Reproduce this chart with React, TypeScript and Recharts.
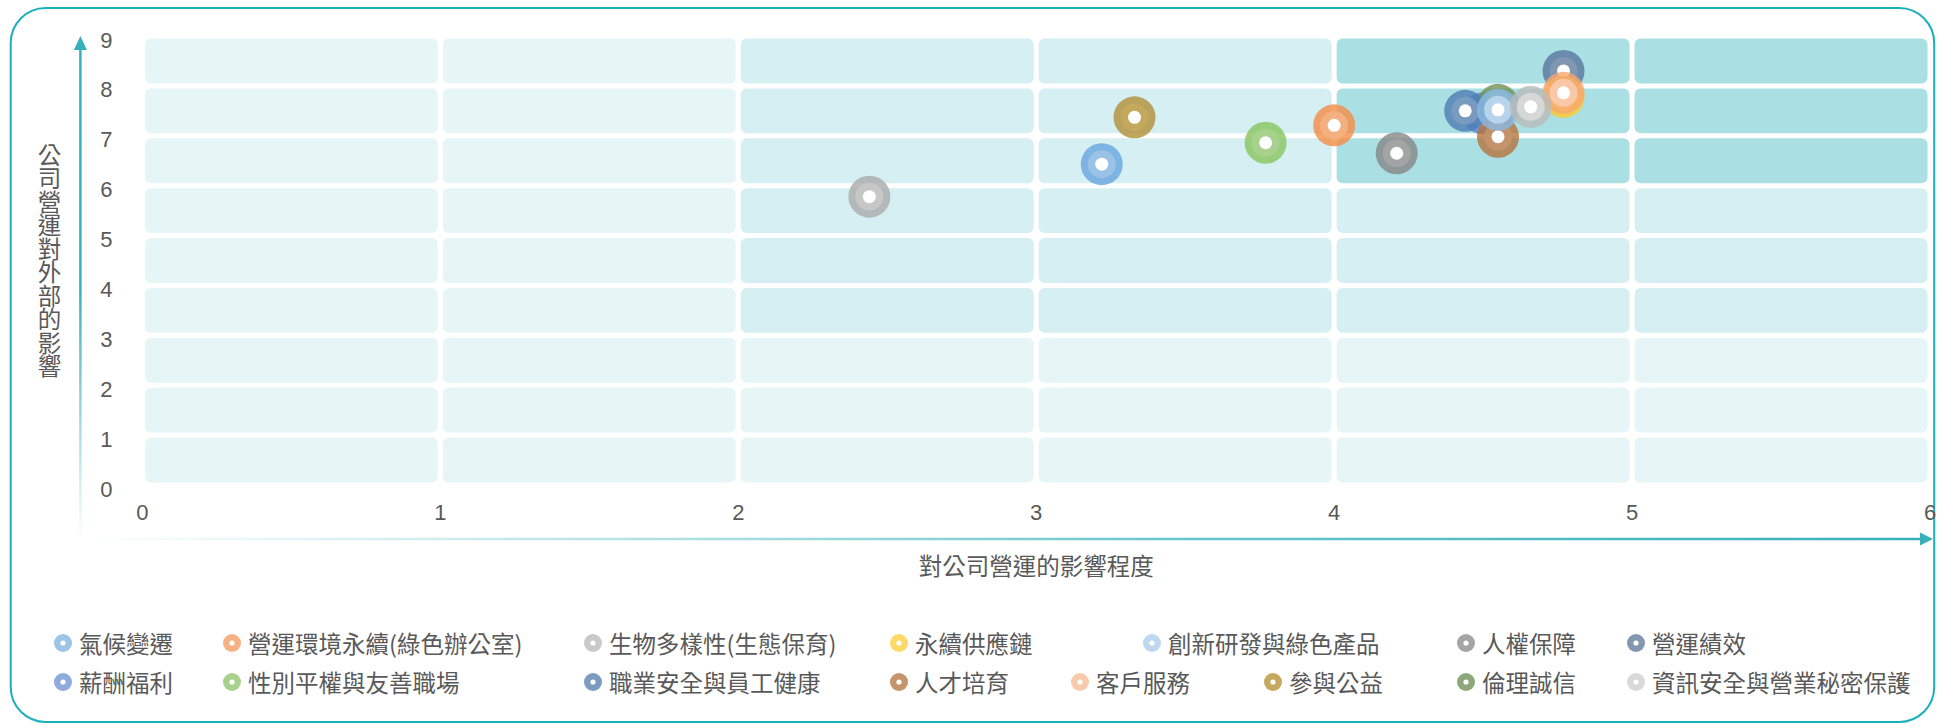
import React from "react";
import { ScatterChart, Scatter, XAxis, YAxis, ReferenceArea, Label } from "recharts";

// topics in legend order
const topics = [
  "氣候變遷",
  "營運環境永續(綠色辦公室)",
  "生物多樣性(生態保育)",
  "永續供應鏈",
  "創新研發與綠色產品",
  "人權保障",
  "營運績效",
  "薪酬福利",
  "性別平權與友善職場",
  "職業安全與員工健康",
  "人才培育",
  "客戶服務",
  "參與公益",
  "倫理誠信",
  "資訊安全與營業秘密保護",
];

// x: 對公司營運的影響程度
const impactOnOperation = [3.22, 4.0, 2.44, 4.77, 4.55, 4.21, 4.77, 4.5, 3.77, 4.44, 4.55, 4.77, 3.33, 4.55, 4.66];
// y: 公司營運對外部的影響
const impactOnOutside = [6.43, 7.21, 5.78, 7.78, 7.52, 6.65, 8.3, 7.45, 6.86, 7.5, 6.98, 7.86, 7.37, 7.62, 7.58];

const topicColors = [
  "#9dc3e6", "#f4b183", "#c9c9c9", "#ffd966", "#bdd7ee", "#a5a5a5", "#8497b0",
  "#8faadc", "#a9d18e", "#7c9cbf", "#c5946a", "#f8cbad", "#c5a95e", "#8ea77a", "#d9d9d9",
];

// order the bubbles are painted in (later = on top)
const drawOrder = [7, 13, 10, 9, 6, 3, 0, 1, 2, 4, 5, 8, 12, 11, 14];

const xTicks = [0, 1, 2, 3, 4, 5, 6];
const yTicks = [0, 1, 2, 3, 4, 5, 6, 7, 8, 9];
const xTitle = "對公司營運的影響程度";
const yTitle = "公司營運對外部的影響";

// legend rows (indexes into topics) and the x of each dot
const legendRows = [
  { items: [0, 1, 2, 3, 4, 5, 6], cols: [63, 232, 593, 899, 1152, 1466, 1636], y: 643 },
  { items: [7, 8, 9, 10, 11, 12, 13, 14], cols: [63, 232, 593, 899, 1080, 1273, 1466, 1636], y: 682 },
];

const W = 1942;
const H = 725;
const PLOT = { left: 142.4, right: 1930, top: 36, bottom: 485 };
const Y_AXIS_W = 60;
const X_AXIS_H = 30;

const TEXT = "#595959";
const TEAL = "#36b1b9";
const NUM_FONT = "'Liberation Sans', Arial, sans-serif";
const CJK_FONT = "'Noto Sans CJK TC', 'Noto Sans', sans-serif";

const LIGHT = "#e6f6f7";
const MEDIUM = "#d5eff2";
const DARK = "#aae0e4";

function zoneColor(x: number, y: number) {
  if (x >= 4 && y >= 6) return DARK;
  if (x >= 2 && y >= 3) return MEDIUM;
  return LIGHT;
}

// darker, slightly richer version of a colour for the bubble ring
function ringColor(hex: string) {
  const n = parseInt(hex.slice(1), 16);
  const r = ((n >> 16) & 255) / 255;
  const g = ((n >> 8) & 255) / 255;
  const b = (n & 255) / 255;
  const max = Math.max(r, g, b);
  const min = Math.min(r, g, b);
  let h = 0;
  let s = 0;
  let l = (max + min) / 2;
  if (max !== min) {
    const d = max - min;
    s = l > 0.5 ? d / (2 - max - min) : d / (max + min);
    if (max === r) h = (g - b) / d + (g < b ? 6 : 0);
    else if (max === g) h = (b - r) / d + 2;
    else h = (r - g) / d + 4;
    h *= 60;
    s = Math.min(1, s + 0.06);
  }
  l = Math.max(0, l - 0.12);
  return `hsl(${h.toFixed(1)}, ${(s * 100).toFixed(1)}%, ${(l * 100).toFixed(1)}%)`;
}

function CellShape(props: any) {
  const { x, y, width, height, fill } = props;
  return <rect x={x + 2.5} y={y + 2.5} width={width - 5} height={height - 5} rx={6} ry={6} fill={fill} />;
}

function bubble(color: string) {
  return (props: any) => {
    const { cx, cy } = props;
    if (cx == null || cy == null) return <g />;
    return (
      <g>
        <circle cx={cx} cy={cy} r={21} fill={ringColor(color)} fillOpacity={0.8} />
        <circle cx={cx} cy={cy} r={14} fill={color} fillOpacity={0.9} />
        <circle cx={cx} cy={cy} r={6.5} fill="#fff" />
      </g>
    );
  };
}

function XTick(props: any) {
  const { x, y, payload } = props;
  return (
    <text x={x} y={y + 27} textAnchor="middle" dominantBaseline="central" fill={TEXT} fontSize={22} fontFamily={NUM_FONT}>
      {payload.value}
    </text>
  );
}

function YTick(props: any) {
  const { x, y, payload } = props;
  return (
    <text x={x - 36} y={y + 4} textAnchor="middle" dominantBaseline="central" fill={TEXT} fontSize={22} fontFamily={NUM_FONT}>
      {payload.value}
    </text>
  );
}

function YTitle(props: any) {
  const vb = props.viewBox || {};
  return (
    <text
      x={vb.x + vb.width - 93}
      y={vb.y + vb.height / 2}
      textAnchor="middle"
      fill={TEXT}
      fontSize={23.5}
      fontFamily={CJK_FONT}
      style={{ writingMode: "vertical-rl" }}
    >
      {yTitle}
    </text>
  );
}

function XTitle(props: any) {
  const vb = props.viewBox || {};
  return (
    <text
      x={vb.x + vb.width / 2}
      y={vb.y + 80}
      textAnchor="middle"
      dominantBaseline="central"
      fill={TEXT}
      fontSize={23.5}
      fontFamily={CJK_FONT}
    >
      {xTitle}
    </text>
  );
}

function Frame() {
  const axisY = 539;
  const axisX = 80.4;
  return (
    <svg width={W} height={H} style={{ position: "absolute", left: 0, top: 0, pointerEvents: "none" }}>
      <defs>
        <linearGradient id="yArrow" gradientUnits="userSpaceOnUse" x1={0} y1={axisY} x2={0} y2={PLOT.top}>
          <stop offset="0" stopColor={TEAL} stopOpacity={0} />
          <stop offset="0.5" stopColor={TEAL} stopOpacity={1} />
          <stop offset="1" stopColor={TEAL} stopOpacity={1} />
        </linearGradient>
        <linearGradient id="xArrow" gradientUnits="userSpaceOnUse" x1={axisX} y1={0} x2={PLOT.right} y2={0}>
          <stop offset="0" stopColor={TEAL} stopOpacity={0} />
          <stop offset="0.6" stopColor={TEAL} stopOpacity={0.75} />
          <stop offset="1" stopColor={TEAL} stopOpacity={1} />
        </linearGradient>
      </defs>
      <rect x={10.7} y={8} width={1923.5} height={714} rx={35} ry={35} fill="none" stroke="#1ab0bb" strokeWidth={2} />
      <line x1={axisX} y1={axisY} x2={axisX} y2={49} stroke="url(#yArrow)" strokeWidth={2.5} />
      <polygon points={`${axisX},36 ${axisX - 6.5},50 ${axisX + 6.5},50`} fill={TEAL} />
      <line x1={axisX} y1={axisY} x2={1920} y2={axisY} stroke="url(#xArrow)" strokeWidth={2.5} />
      <polygon points={`1933,${axisY} 1920,${axisY - 6.5} 1920,${axisY + 6.5}`} fill={TEAL} />
    </svg>
  );
}

function LegendBlock() {
  return (
    <div style={{ position: "absolute", left: 0, top: 0, width: W, height: H, pointerEvents: "none" }}>
      {legendRows.map((row, ri) =>
        row.items.map((idx, ci) => (
          <div
            key={`${ri}-${ci}`}
            style={{
              position: "absolute",
              left: row.cols[ci] - 9,
              top: row.y - 14,
              height: 28,
              display: "flex",
              alignItems: "center",
              whiteSpace: "nowrap",
            }}
          >
            <svg width={18} height={18} style={{ display: "block" }}>
              <circle cx={9} cy={9} r={9} fill={topicColors[idx]} />
              <circle cx={9} cy={9} r={2.6} fill="#fff" />
            </svg>
            <span style={{ marginLeft: 7, fontFamily: CJK_FONT, fontSize: 23.5, lineHeight: "28px", color: TEXT }}>
              {topics[idx]}
            </span>
          </div>
        ))
      )}
    </div>
  );
}

export default function App() {
  const cells: { x: number; y: number }[] = [];
  for (let i = 0; i < xTicks.length - 1; i++) {
    for (let j = 0; j < yTicks.length - 1; j++) {
      cells.push({ x: xTicks[i], y: yTicks[j] });
    }
  }

  return (
    <div style={{ position: "absolute", left: 0, top: 0, width: W, height: H, background: "#fff", overflow: "hidden" }}>
      <Frame />
      <div style={{ position: "absolute", left: 0, top: 0 }}>
        <ScatterChart
          width={W}
          height={H}
          margin={{
            top: PLOT.top,
            right: W - PLOT.right,
            left: PLOT.left - Y_AXIS_W,
            bottom: H - PLOT.bottom - X_AXIS_H,
          }}
        >
          <XAxis
            type="number"
            dataKey="x"
            domain={[0, 6]}
            ticks={xTicks}
            height={X_AXIS_H}
            axisLine={false}
            tickLine={false}
            tickSize={0}
            tickMargin={0}
            tick={<XTick />}
            interval={0}
          >
            <Label content={<XTitle />} />
          </XAxis>
          <YAxis
            type="number"
            dataKey="y"
            domain={[0, 9]}
            ticks={yTicks}
            width={Y_AXIS_W}
            axisLine={false}
            tickLine={false}
            tickSize={0}
            tickMargin={0}
            tick={<YTick />}
            interval={0}
          >
            <Label content={<YTitle />} />
          </YAxis>
          {cells.map((c) => (
            <ReferenceArea
              key={`cell-${c.x}-${c.y}`}
              x1={c.x}
              x2={c.x + 1}
              y1={c.y}
              y2={c.y + 1}
              fill={zoneColor(c.x, c.y)}
              fillOpacity={1}
              stroke="none"
              ifOverflow="visible"
              shape={<CellShape />}
            />
          ))}
          {drawOrder.map((i) => (
            <Scatter
              key={topics[i]}
              name={topics[i]}
              data={[{ x: impactOnOperation[i], y: impactOnOutside[i] }]}
              fill={topicColors[i]}
              shape={bubble(topicColors[i])}
              isAnimationActive={false}
            />
          ))}
        </ScatterChart>
      </div>
      <LegendBlock />
    </div>
  );
}
